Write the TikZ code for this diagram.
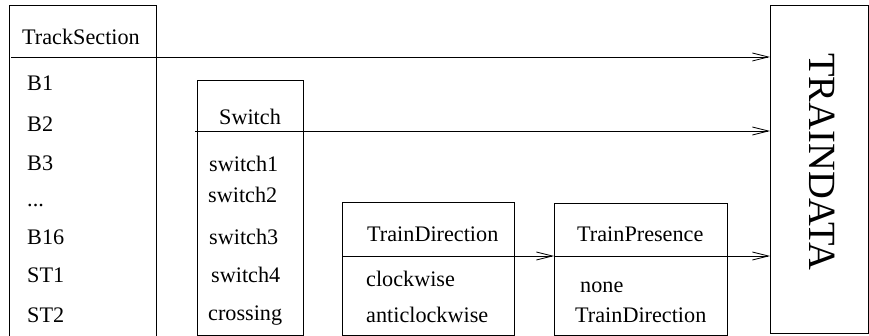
\documentclass[tikz,border=0pt]{standalone}
\usepackage{fontspec}
\setmainfont{Liberation Serif}
\usetikzlibrary{arrows.meta}
\begin{document}
\begin{tikzpicture}[x=1pt,y=-1pt,
  box/.style={draw, line width=0.9pt, inner sep=0pt, outer sep=0pt},
  lbl/.style={anchor=base west, inner sep=0pt, font=\fontsize{22.2}{24}\selectfont},
  conn/.style={line width=0.9pt, -{Straight Barb[length=16pt,width=8pt,line width=0.8pt]}},
  hline/.style={line width=0.9pt}]
\useasboundingbox (0,0) rectangle (869,336);
% boxes
\node[box, minimum width=147pt, minimum height=335pt] (ts) at (82.5,172.5) {};
\node[box, minimum width=106pt, minimum height=255pt] (sw) at (250,207.5) {};
\node[box, minimum width=172pt, minimum height=133pt] (td) at (428,268.5) {};
\node[box, minimum width=173pt, minimum height=132pt] (tp) at (640.5,269) {};
\node[box, minimum width=98pt, minimum height=328pt] (data) at (819,169) {};
\node[rotate=-90, inner sep=0pt, font=\fontsize{38.5}{40}\selectfont] (datatxt) at (822,162) {TRAINDATA};
% header lines / connectors
\coordinate (tsL) at (11,57);
\coordinate (swL) at (195,131);
\coordinate (tdL) at (342,256);
\coordinate (tpL) at (554,256);
\draw[conn] (tsL) -- (tsL -| data.west);
\draw[conn] (swL) -- (swL -| data.west);
\draw[conn] (tdL) -- (tdL -| tp.west);
\draw[conn] (tpL) -- (tpL -| data.west);
% TrackSection
\node[lbl] (tsT) at (22,45) {TrackSection};
\node[lbl] (b1) at (27,91) {B1};
\node[lbl] (b2) at (27,132) {B2};
\node[lbl] (b3) at (27,171) {B3};
\node[lbl] (bd) at (27,207) {...};
\node[lbl] (b16) at (27,245) {B16};
\node[lbl] (st1) at (27,283) {ST1};
\node[lbl] (st2) at (27,322) {ST2};
% Switch
\node[lbl] (swT) at (219,125) {Switch};
\node[lbl] (s1) at (209,172) {switch1};
\node[lbl] (s2) at (208,203) {switch2};
\node[lbl] (s3) at (209,245) {switch3};
\node[lbl] (s4) at (211,283) {switch4};
\node[lbl] (cr) at (208,320) {crossing};
% TrainDirection
\node[lbl] (tdT) at (367,242) {TrainDirection};
\node[lbl] (cw) at (366,287) {clockwise};
\node[lbl] (acw) at (366,323) {anticlockwise};
% TrainPresence
\node[lbl] (tpT) at (577,242) {TrainPresence};
\node[lbl] (none) at (580,292) {none};
\node[lbl] (tpd) at (575,323) {TrainDirection};
\end{tikzpicture}
\end{document}
